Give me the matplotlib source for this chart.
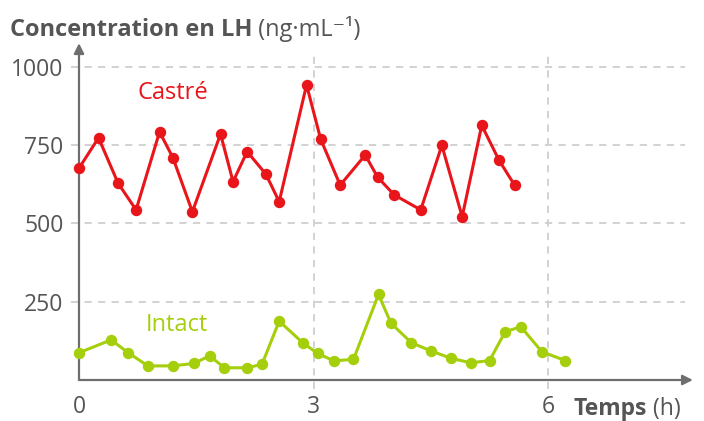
import matplotlib
matplotlib.use("Agg")
import matplotlib.pyplot as plt

plt.rcParams['font.family'] = ['Open Sans', 'DejaVu Sans']

# Data (hours, ng/mL)
castre_t = [0.0, 0.25, 0.50, 0.73, 1.03, 1.20, 1.45, 1.81, 1.97, 2.15, 2.39, 2.56,
            2.91, 3.09, 3.34, 3.66, 3.82, 4.03, 4.37, 4.64, 4.90, 5.15, 5.37, 5.57]
castre_v = [676, 773, 628, 543, 792, 710, 537, 785, 633, 729, 657, 569,
            942, 769, 622, 718, 647, 591, 543, 749, 521, 813, 702, 622]
intact_t = [0.0, 0.41, 0.63, 0.88, 1.20, 1.47, 1.67, 1.86, 2.15, 2.34, 2.56, 2.86,
            3.05, 3.26, 3.51, 3.83, 3.99, 4.25, 4.50, 4.76, 5.01, 5.25, 5.45, 5.65,
            5.92, 6.22]
intact_v = [87, 128, 87, 45, 45, 53, 77, 39, 39, 50, 188, 119,
            85, 61, 66, 273, 181, 119, 93, 69, 55, 62, 154, 170,
            90, 62]
xticks = [0, 3, 6]
yticks = [250, 500, 750, 1000]

RED = '#e8151b'
GREEN = '#a5cf0c'
AXC = '#6e6e6e'
GRID = '#cfcfcf'
TXT = '#555555'
FS = 16.5

W, H = 704, 421
fig = plt.figure(figsize=(W / 100, H / 100), dpi=100)
x0px, y0px = 79, 380
pxh = 78.2
pxu = 0.3133
xmax = 7.8
ymax = 1055
ax = fig.add_axes([x0px / W, (H - y0px) / H, xmax * pxh / W, ymax * pxu / H])
ax.set_xlim(0, xmax)
ax.set_ylim(0, ymax)
for s in ax.spines.values():
    s.set_visible(False)

# grid
for y in yticks:
    ax.plot([-0.1, 7.75], [y, y], ls=(0, (4, 3.5)), color=GRID, lw=1.3, clip_on=False, zorder=1)
for x in xticks[1:]:
    ax.plot([x, x], [-30, 1035], ls=(0, (4, 3.5)), color=GRID, lw=1.3, clip_on=False, zorder=1)

# axes arrows
ax.annotate('', xy=(xmax + 0.05, 0), xytext=(0, 0), xycoords='data',
            arrowprops=dict(arrowstyle='-|>,head_length=0.6,head_width=0.3', color=AXC, lw=1.6,
                            shrinkA=0, shrinkB=0), annotation_clip=False, zorder=3)
ax.annotate('', xy=(0, ymax + 20), xytext=(0, 0), xycoords='data',
            arrowprops=dict(arrowstyle='-|>,head_length=0.6,head_width=0.3', color=AXC, lw=1.6,
                            shrinkA=0, shrinkB=0), annotation_clip=False, zorder=3)

ax.set_xticks(xticks)
ax.set_yticks(yticks)
ax.set_yticklabels([str(v) for v in yticks])
ax.tick_params(axis='both', length=0, labelsize=FS, labelcolor=TXT)
ax.tick_params(axis='x', pad=11)
ax.tick_params(axis='y', pad=11)

ax.plot(castre_t, castre_v, color=RED, lw=2.2, marker='o', ms=7.2, zorder=4, clip_on=False)
ax.plot(intact_t, intact_v, color=GREEN, lw=2.2, marker='o', ms=7.2, zorder=4, clip_on=False)

ax.text((173 - x0px) / pxh, (y0px - 93) / pxu, 'Castré', color=RED, fontsize=17, ha='center', va='center')
ax.text((177 - x0px) / pxh, (y0px - 325) / pxu, 'Intact', color=GREEN, fontsize=17, ha='center', va='center')

# title
t1 = fig.text(10 / W, 1 - 36.5 / H, 'Concentration en LH', fontsize=17, fontweight='bold',
              color=TXT, va='baseline', ha='left')
ax.annotate(' (ng·mL⁻¹)', xy=(1, 0), xycoords=t1, va='bottom', ha='left',
            fontsize=17, color=TXT)

# x label
t3 = fig.text(574 / W, 1 - 415 / H, 'Temps', fontsize=FS, fontweight='bold', color=TXT,
              va='baseline', ha='left')
ax.annotate(' (h)', xy=(1, 0), xycoords=t3, va='bottom', ha='left', fontsize=FS, color=TXT)

fig.savefig('out.png', dpi=100)
